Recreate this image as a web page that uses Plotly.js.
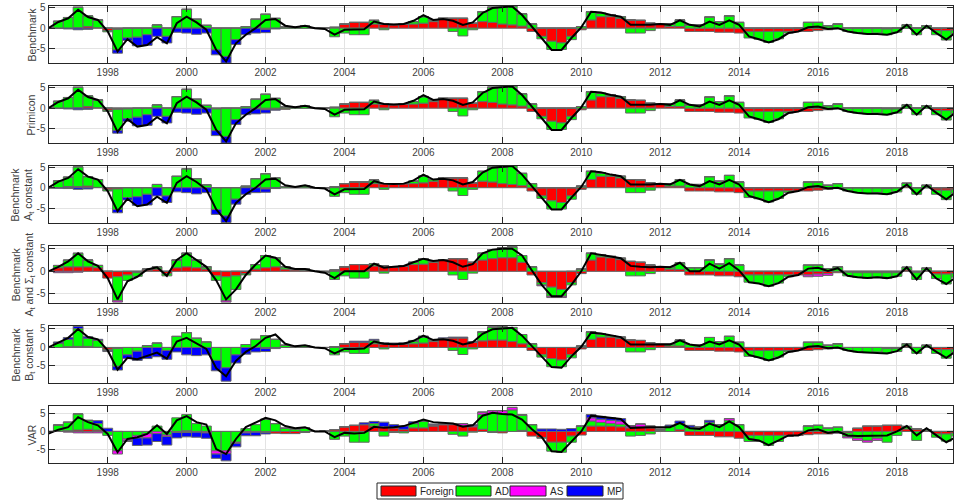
<!DOCTYPE html>
<html>
<head>
<meta charset="utf-8">
<script src="https://cdn.plot.ly/plotly-3.0.1.min.js"></script>
<style>html,body{margin:0;padding:0;background:#fff}#chart{width:954px;height:501px}</style>
</head>
<body>
<div id="chart"></div>
<script>
// Quarterly dates 1996Q3 .. 2019Q3
const quarters = Array.from({length: 93}, (_, i) => 1996.5 + 0.25 * i);
const yearTicks = [1998, 2000, 2002, 2004, 2006, 2008, 2010, 2012, 2014, 2016, 2018];
const seriesNames = ['Foreign', 'AD', 'AS', 'MP'];
const panelLabels = ['Benchmark', 'Primicon', 'Benchmark<br>A<sub>t</sub> constant',
  'Benchmark<br>A<sub>t</sub> and Σ<sub>t</sub> constant', 'Benchmark<br>B<sub>t</sub> constant', 'VAR'];

// ---------- Panel 1: Benchmark ----------
const p1Foreign = [0,0,0,0.1,0.4,0.1,-0.6,-0.3,0,0, 0,0,0,0,0,0,0,0,0,0, 0,0,-0.3,0,0,0,0,0,0,0.2,
  1.0,1.4,1.4,1.0,1.0,0.8,1.0,1.0,1.2,1.6, 2.4,2.4,2.4,1.2,1.6,1.4,1.0,0.8,0.5,-0.8,
  -2.0,-3.2,-3.6,-2.0,-0.4,2.0,2.8,2.8,2.4,2.0, 1.9,1.2,1.0,0.4,0.4,-0.8,-0.8,-0.8,-1.0,-1.0,
  -1.2,-0.8,-0.8,-0.8,-0.8,-0.8,-0.8,-0.8,-0.6,-0.4, -0.2,0,0,0,0,-0.2,0,0,0,0, -0.6,-0.6,-0.5];
const p1AD = [0,1.7,2.6,5.0,2.6,1.9,-0.3,-5.0,-2.4,-2.2, -1.6,0.8,-2.0,2.8,4.6,2.2,0.7,-5.3,-6.9,-2.8,
  0.4,2.2,3.4,2.4,0.3,0.2,0.5,0,0,-2.1, -1.2,-1.6,-1.6,0.9,-0.4,0.1,0,0.6,1.6,0.4,
  0,-0.8,-1.9,-0.4,2.4,3.7,4.1,4.6,3.0,1.0, -0.6,-2.0,-1.6,-0.8,0.4,2.0,0.8,0.4,0.4,-1.2,
  -1.2,-0.6,0,0.6,1.6,0.8,0.8,2.7,1.6,3.0, 1.4,-1.6,-1.9,-2.7,-1.8,-0.4,0,1.4,1.4,0.6,
  1.0,-0.8,-1.2,-1.4,-1.2,-1.4,-1.0,0.8,-1.6,0.6, -1.0,-2.3,-0.8];
const p1AS = new Array(93).fill(0);
const p1MP = [0,-0.1,-0.2,-0.4,-0.3,0,0,-0.8,-0.6,-2.1, -2.6,-2.0,-1.6,-1.0,-1.2,-1.5,-1.2,-1.2,-1.6,-1.2,
  -1.6,-1.2,-0.8,-0.2,0,0,0,0,0,0].concat(new Array(63).fill(0));
const p1Total = [0,1.5,2.4,4.5,2.7,2.0,-0.8,-5.7,-2.7,-4.5, -4.1,-2.2,-3.7,1.2,2.8,1.4,-0.4,-5.3,-8.1,-3.7,
  -1.6,0,2.0,2.2,0.6,0.2,0.6,0,-0.2,-1.6, -0.4,-0.4,-0.3,1.6,1.0,0.9,1.0,1.8,3.2,2.0,
  2.2,1.8,0.8,1.4,3.7,4.9,5.1,5.3,3.2,0.4, -2.4,-5.3,-5.3,-2.4,0.2,4.0,3.8,3.2,2.8,0.8,
  0.8,0.8,1.0,0.8,1.9,0.8,0.4,1.6,0.8,1.9, 0.8,-2.0,-2.7,-3.5,-2.7,-1.2,-0.8,0.2,0.4,-0.2,
  0,-0.8,-1.2,-1.4,-1.4,-1.6,-1.0,0.8,-1.6,0.6, -1.2,-2.8,-1.0];

// ---------- Panel 2: Primicon ----------
const p2Foreign = [0,0,0,0.1,0.4,0.1,-0.5,-0.3,-0.2,0, 0,0,0,0,0,0,0,-0.2,0,0, 0,-0.2,-0.4,-0.3,-0.3,0,0,0,0,0.2,
  1.0,1.4,1.4,1.0,1.0,0.8,1.0,1.0,1.2,1.6, 2.4,2.4,2.4,1.2,1.6,1.4,1.0,0.8,0.5,-0.8,
  -2.0,-3.2,-3.6,-2.0,-0.4,2.0,2.8,2.8,2.4,2.0, 1.9,1.2,1.0,0.4,0.4,-0.8,-0.8,-0.8,-1.0,-1.0,
  -1.2,-0.8,-0.8,-0.8,-0.8,-0.8,-0.8,-0.8,-0.6,-0.4, -0.2,0,0,0,0,-0.2,-0.2,0,0,0, -0.6,-0.6,-0.5];
const p2AD = [0,1.7,2.6,5.0,2.6,1.9,-0.3,-5.2,-2.4,-2.2, -1.6,0.8,-2.0,2.8,4.6,2.2,0.7,-5.3,-6.9,-2.8,
  0.4,2.2,3.4,2.4,0.3,0.2,0.5,0,0,-2.1, -1.2,-1.6,-1.6,0.9,-0.4,0.1,0,0.6,1.6,0.4,
  0,-0.8,-1.9,-0.4,2.4,3.7,4.1,4.6,3.0,1.0, -0.6,-2.0,-1.6,-0.8,0.4,2.0,0.8,0.4,0.4,-1.2,
  -1.2,-0.6,0,0.6,1.6,0.8,0.8,2.7,1.6,3.0, 1.4,-1.6,-1.9,-2.7,-1.8,-0.4,0,1.4,1.4,0.6,
  1.0,-0.8,-1.2,-1.4,-1.2,-1.4,-1.0,0.8,-1.6,0.6, -1.0,-2.3,-0.8];
const p2AS = new Array(93).fill(0);
const p2MP = [0,-0.1,-0.2,-0.4,-0.3,0,0,-0.6,-0.6,-2.1, -2.6,-2.0,-1.6,-1.0,-1.2,-1.5,-1.2,-1.2,-1.6,-1.2,
  -1.6,-1.2,-0.8,-0.2,0,0,0,0,0,0].concat(new Array(63).fill(0));
const p2Total = [0,1.5,2.4,4.5,2.7,2.0,-0.8,-5.8,-2.7,-4.5, -4.1,-2.2,-3.7,1.2,2.8,1.4,-0.4,-5.3,-8.1,-3.7,
  -1.6,0,2.0,2.2,0.6,0.2,0.6,0,-0.2,-1.6, -0.4,-0.4,-0.3,1.6,1.0,0.9,1.0,1.8,3.2,2.0,
  2.2,1.8,0.8,1.4,3.7,4.9,5.1,5.3,3.2,0.4, -2.4,-5.3,-5.3,-2.4,0.2,4.0,3.8,3.2,2.8,0.8,
  0.8,0.8,1.0,0.8,1.9,0.8,0.4,1.6,0.8,1.9, 0.8,-2.0,-2.7,-3.5,-2.7,-1.2,-0.8,0.2,0.4,-0.2,
  0,-0.8,-1.2,-1.4,-1.4,-1.6,-1.0,0.8,-1.6,0.6, -1.2,-2.8,-1.0];

// ---------- Panel 3: Benchmark, A_t constant ----------
const p3Foreign = [0,0,0.3,0.3,0.4,0.1,-0.5,-0.3,0,0, 0,0,0,0,0,0,0,0,0,0, 0,0,-0.3,0,0,0,0,0,0,0.2,
  1.0,1.4,1.4,1.0,1.0,0.8,1.0,1.0,1.2,1.6, 2.4,2.4,2.4,1.2,1.6,1.4,1.0,0.8,0.5,-0.8,
  -2.0,-3.2,-3.6,-2.0,-0.4,2.0,2.8,2.8,2.4,2.0, 1.9,1.2,1.0,0.4,0.4,-0.8,-0.8,-0.8,-1.0,-1.0,
  -1.2,-0.8,-0.8,-0.8,-0.8,-0.8,-0.8,-0.8,-0.6,-0.4, -0.2,0,0,0,0,-0.2,0,0.3,0,0, -0.6,-0.6,-0.5];
const p3AD = [0,1.7,2.3,4.8,2.3,1.9,-0.3,-5.0,-2.4,-2.2, -1.6,0.8,-2.0,2.8,4.6,2.2,0.7,-5.3,-6.9,-2.8,
  0.4,2.2,3.4,2.4,0.3,0.2,0.5,0,0,-2.1, -1.2,-1.6,-1.6,0.9,-0.4,0.1,0,0.6,1.6,0.4,
  0,-0.8,-1.9,-0.4,2.4,3.7,4.1,4.6,3.0,1.0, -0.6,-2.0,-1.6,-0.8,0.4,2.0,0.8,0.4,0.4,-1.2,
  -1.2,-0.6,0,0.6,1.6,0.8,0.8,2.7,1.6,3.0, 1.4,-1.6,-1.9,-2.7,-1.8,-0.4,0,1.4,1.4,0.6,
  1.0,-0.8,-1.2,-1.4,-1.2,-1.4,-1.0,0.8,-1.6,0.6, -1.0,-2.3,-0.8];
const p3AS = new Array(93).fill(0);
const p3MP = [0,-0.1,-0.2,-0.4,-0.3,0,0,-0.8,-0.6,-2.1, -2.6,-2.0,-1.6,-1.0,-1.2,-1.5,-1.2,-1.2,-1.6,-1.2,
  -1.6,-1.2,-0.8,-0.2,0,0,0,0,0,0].concat(new Array(63).fill(0));
const p3Total = [0,1.5,2.4,4.5,2.7,2.0,-0.8,-5.7,-2.7,-4.5, -4.1,-2.2,-3.7,1.2,2.8,1.4,-0.4,-5.3,-8.1,-3.7,
  -1.6,0,2.0,2.2,0.6,0.2,0.6,0,-0.2,-1.6, -0.4,-0.4,-0.3,1.6,1.0,0.9,1.0,1.8,3.2,2.0,
  2.2,1.8,0.8,1.4,3.7,4.9,5.1,5.3,3.2,0.4, -2.4,-5.3,-5.3,-2.4,0.2,4.0,3.8,3.2,2.8,0.8,
  0.8,0.8,1.0,0.8,1.9,0.8,0.4,1.6,0.8,1.9, 0.8,-2.0,-2.7,-3.5,-2.7,-1.2,-0.8,0.2,0.4,-0.2,
  0,-0.8,-1.2,-1.4,-1.4,-1.6,-1.0,0.8,-1.6,0.6, -1.2,-2.8,-1.0];

// ---------- Panel 4: Benchmark, A_t and Sigma_t constant ----------
const p4Foreign = [0,0.8,1.0,1.0,1.0,0.8,-1.5,-1.2,-0.8,-0.3, 0.3,0.5,-0.5,0.8,1.0,0.8,0.5,-1.0,-1.2,-1.0,
  -0.5,0.5,0.8,1.0,0.5,0.3,0.2,0,-0.2,0.3, 1.0,1.5,1.5,1.2,1.2,1.0,1.2,1.5,1.6,2.0,
  2.5,2.8,2.8,2.0,2.5,2.8,3.0,3.0,2.0,-0.8, -2.5,-3.5,-4.0,-2.5,-0.5,2.5,3.2,3.0,2.6,2.2,
  2.0,1.4,1.0,0.5,0.4,-0.8,-0.8,-0.8,-1.0,-1.0, -1.2,-0.8,-0.8,-0.8,-0.8,-0.8,-0.8,-0.8,-0.6,-0.5,
  -0.3,-0.2,-0.3,-0.3,-0.3,-0.3,-0.3,0.3,-0.3,0.2, -0.6,-0.6,-0.5];
const p4AD = [0,0.5,1.5,3.0,1.5,0.5,0,-5.3,-1.2,-0.8, 0.2,0.5,-0.5,1.7,3.0,1.7,0.5,-1.0,-5.3,-3.0,
  -0.3,1.0,2.7,2.0,0.5,0.2,0.3,0,-0.1,-1.8, -1.0,-1.5,-1.5,0.5,-0.4,0,0,0.5,1.2,0.3,
  0,-0.8,-1.8,-0.4,1.5,2.0,2.2,2.4,1.5,1.0, -0.5,-2.0,-1.5,-0.5,0.5,1.5,0.5,0.3,0.3,-1.0,
  -1.0,-0.5,0,0.5,1.5,0.8,0.8,2.5,1.6,2.8, 1.4,-1.6,-1.9,-2.5,-1.8,-0.4,0,1.4,1.4,0.6,
  1.0,-0.8,-1.0,-1.2,-1.0,-1.2,-0.8,0.6,-1.5,0.5, -1.0,-2.2,-0.8];
const p4AS = [0,-0.3,-0.3,-0.2,0,0,0,-0.3,0,0, 0,0,0,0,0,0,0,0,-0.3,0,
  0,0,0,0,0,0,0,0,0,0, 0,0,0,0,0,0,0,0,0,0, 0,0,0,0,0,0,0,0,0,0,
  -0.2,-0.3,-0.3,0,0,0,0,0,0,0, 0,0,0,0,0,0,0,0,0,0, 0,0,0,0,0,0,0,-0.4,-0.5,-0.4,
  0,0,0,0,0,0,0,0,0,0, 0,0,0];
const p4MP = new Array(93).fill(0);
const p4Total = [0,1.0,2.2,4.0,2.2,1.2,-1.5,-6.2,-2.2,-1.2, 0.4,0.9,-1.0,2.5,4.0,2.5,1.0,-2.0,-6.2,-4.0,
  -0.8,1.5,3.5,3.0,1.0,0.5,0.5,0,-0.3,-1.5, 0,0,0,1.7,0.8,1.0,1.2,2.0,2.8,2.3,
  2.5,2.0,1.0,1.6,4.0,4.8,5.0,5.0,3.5,0.2, -3.0,-5.5,-5.5,-3.0,0,4.0,3.7,3.3,2.9,1.2,
  1.0,0.9,1.0,0.9,1.9,0,0,1.7,0.6,1.8, 0.2,-2.4,-2.7,-3.3,-2.6,-1.2,-0.8,0.6,0.8,0.1,
  0.7,-1.0,-1.3,-1.5,-1.3,-1.5,-1.1,0.9,-1.8,0.7, -1.6,-2.8,-1.3];

// ---------- Panel 5: Benchmark, B_t constant ----------
const p5Foreign = [0,0,0.2,0.3,0.3,0.1,-0.5,-0.3,0,0, 0,0,0,0,0,0,0,0,0,0, 0,0,-0.3,0,0,0,0,0,0,0.2,
  1.0,1.4,1.4,1.0,1.0,0.8,1.0,1.0,1.2,1.6, 2.4,2.6,2.6,1.4,1.8,2.0,2.0,1.6,1.0,-0.8,
  -2.0,-3.0,-3.4,-2.0,-0.4,2.2,2.8,2.8,2.4,2.0, 1.9,1.2,1.0,0.4,0.4,-0.8,-0.8,-0.8,-1.0,-1.0,
  -1.2,-0.8,-0.8,-0.8,-0.8,-0.8,-0.8,-0.8,-0.6,-0.4, -0.2,0,0,0,0,-0.3,-0.3,0.4,0,0, -0.6,-0.6,-0.5];
const p5AD = [0,1.2,2.0,4.8,2.2,1.8,-0.3,-4.8,-2.0,-1.0, 0.5,1.2,-0.8,3.0,4.0,2.5,1.5,-3.5,-5.5,-2.0,
  0.8,2.2,3.2,2.2,0.6,0.3,0.5,0,0,-2.0, -1.2,-1.6,-1.6,0.9,-0.4,0.1,0,0.6,1.6,0.4,
  0,-0.8,-1.9,-0.4,2.4,3.5,3.6,3.8,2.5,1.0, -0.6,-2.2,-1.8,-0.8,0.4,2.0,0.8,0.4,0.4,-1.2,
  -1.2,-0.6,0,0.6,1.6,0.8,0.8,2.7,1.6,3.0, 1.4,-1.6,-1.9,-2.7,-1.8,-0.4,0,1.4,1.4,0.6,
  1.0,-0.8,-1.2,-1.4,-1.2,-1.2,-0.8,0.6,-1.6,0.6, -1.0,-2.3,-0.8];
const p5AS = new Array(93).fill(0);
const p5MP = [0,0.3,0.5,0.6,0.4,0.3,-0.3,-1.0,-1.0,-2.5, -3.0,-2.5,-2.4,-1.2,-2.0,-2.2,-2.0,-2.8,-3.6,-2.2,
  -1.8,-1.2,-0.8,-0.3,0,0,0,0,0,0, 0,0.3,0.3,0.3,0.3,0.3,0.3,0.3,0.3,0.2,
  0.2,0.2,0.2,0.2,0,0,0,0,0,0, 0,0,0,0,0,0,0,0,0,0].concat(new Array(33).fill(0));
const p5Total = [0,1.4,2.6,5.0,2.8,2.2,-0.8,-6.0,-2.8,-3.2, -2.4,-1.4,-3.0,1.6,2.6,1.2,-0.4,-5.6,-7.8,-3.6,
  -1.2,0.4,2.6,3.5,1.0,0.3,0.6,0,-0.2,-1.6, -0.4,-0.4,-0.3,1.6,1.0,0.9,1.0,1.8,3.2,2.0,
  2.2,1.8,0.8,1.4,3.7,4.9,5.1,5.3,3.2,0.4, -2.4,-5.3,-5.5,-2.4,0.2,4.0,3.8,3.2,2.8,0.8,
  0.8,0.8,1.0,0.8,1.9,0.8,0.4,1.6,0.8,1.9, 0.8,-2.0,-2.7,-3.5,-2.7,-1.2,-0.8,0.2,0.4,-0.2,
  0,-0.8,-1.2,-1.4,-1.4,-1.6,-1.0,0.8,-1.6,0.6, -1.2,-2.8,-1.0];

// ---------- Panel 6: VAR ----------
const p6Foreign = [0,0.1,0.2,0.4,0.6,0.4,0,0,0,0, 0,0,0,0,0.2,0,0,0,0,0,
  0,0,-0.3,-0.5,-0.6,-0.6,-0.3,0,0.2,0.5, 1.3,1.7,1.9,1.5,1.3,1.0,0.6,1.0,1.0,1.5,
  1.9,1.9,1.7,1.3,0.6,-0.3,-0.4,0,0.3,-1.3, -1.7,-3.0,-3.0,-1.3,-1.0,1.5,1.5,1.5,1.3,1.0,
  1.2,1.0,0.3,0,0.5,-1.1,-1.1,-1.1,-1.5,-1.5, -1.9,-1.1,-1.1,-1.1,-1.1,-1.1,-1.1,-0.9,-0.7,-0.7,
  -0.3,-0.4,0.9,1.5,1.5,1.7,1.7,0.7,0.7,0.2, -0.7,-0.7,-0.5];
const p6AD = [0,1.7,2.4,4.5,2.5,1.8,-1.1,-5.4,-2.1,-1.1, -0.6,1.5,-1.0,3.8,4.5,2.2,1.5,-5.4,-5.4,-3.0,
  0.8,1.9,3.4,2.2,0.9,0.7,1.0,0,0,-2.2, -1.3,-3.0,-3.0,0.7,-1.3,-0.3,-0.4,1.2,1.9,0.2,
  0,-0.8,-1.3,-0.2,4.2,5.0,5.0,6.0,4.2,1.9, -0.2,-2.5,-2.8,-1.7,1.5,1.4,1.0,0.7,0.7,-1.3,
  -1.1,-0.7,0.3,1.5,1.7,1.2,1.2,2.6,1.9,3.1, 1.9,-1.7,-1.7,-2.8,-1.7,-0.3,0,1.5,1.7,0.9,
  1.2,-1.0,-1.9,-2.5,-1.9,-3.0,-1.1,0.7,-2.5,0.3, -0.9,-2.0,-0.8];
const p6AS = [0,0,-0.2,-0.4,-0.4,-0.4,0,-0.9,-0.5,-0.7, -1.2,-0.6,-0.4,-0.3,-0.3,-0.2,-0.4,-0.9,-0.8,-0.3,
  -0.4,-0.2,0,0,0,0,0,0,0,0, 0,0,0,0,0,0,0,0,0,0.2,
  0.2,0.3,0.5,0.3,0.6,0.8,0.8,0.7,0.2,0, 0,0,0,0,0,0.9,0.9,0.9,0.9,0.6,
  0.9,0.5,0,0,0,0,0,0,0,0.5, 0,0,0,0,0,0,0,0,0,0,
  -0.2,-0.4,-0.6,-0.5,-0.6,0,0,0,0,0, 0,0,0];
const p6MP = [0,0,0,0,0,0.8,0.9,0,-0.2,-2.1, -2.0,-2.2,-2.4,-1.5,-1.2,-1.4,-1.5,-1.2,-2.0,-1.0,
  -0.8,-1.0,-0.4,0,0,0,0,0,0,0, 0,0,0.5,0.6,1.3,0.9,0.9,0.5,0,0.2,
  0,0,0,0.3,0,0,0,0,0,0, 0.7,0.7,0.6,0.8,0,0.9,0.8,0.7,0.7,0,
  0,0,0,0.3,0.7,0.5,0,0.5,0,0].concat(new Array(23).fill(0));
const p6Total = [-0.6,0.5,1.2,4.0,2.6,1.7,-0.7,-5.8,-2.1,-1.6, -0.7,1.7,-0.7,3.1,4.3,2.6,1.9,-4.9,-6.3,-2.1,
  1.2,2.6,3.8,3.1,1.5,0.9,1.2,0,0,-1.6, -0.4,-0.6,-0.4,1.3,1.0,1.2,1.5,2.4,3.3,2.6,
  2.5,2.2,1.3,1.7,4.4,5.2,4.9,4.7,3.3,0.6, -1.6,-5.5,-5.7,-2.7,0,4.4,4.1,3.8,3.5,1.0,
  1.2,1.2,1.2,1.2,2.4,0.9,0.7,2.2,1.2,2.8, 1.2,-2.1,-2.5,-3.8,-2.5,-1.1,-1.1,0.3,0.6,-0.4,
  0,-1.1,-1.3,-1.3,-1.1,-1.1,0,1.5,-1.1,0.9, -1.1,-3.0,-1.5];

const panels = [
  [p1Foreign, p1AD, p1AS, p1MP, p1Total],
  [p2Foreign, p2AD, p2AS, p2MP, p2Total],
  [p3Foreign, p3AD, p3AS, p3MP, p3Total],
  [p4Foreign, p4AD, p4AS, p4MP, p4Total],
  [p5Foreign, p5AD, p5AS, p5MP, p5Total],
  [p6Foreign, p6AD, p6AS, p6MP, p6Total]
];
const yRanges = [[-8.5, 5.4], [-8.5, 5.4], [-8.6, 5.3], [-7.0, 5.6], [-9.6, 5.8], [-8.8, 7.1]];

// ---------- styling ----------
const W = 954, H = 501;
const colors = ['#ff0000', '#00ff00', '#ff00ff', '#0000ff'];
const axisColor = '#262626';
const font = {family: 'Liberation Sans, Arial, sans-serif', size: 10, color: '#404040'};
const plotLeft = 48.5, plotRight = 953;

const traces = [];
const layout = {
  width: W, height: H,
  margin: {l: 0, r: 0, t: 0, b: 0},
  paper_bgcolor: '#fff', plot_bgcolor: '#fff',
  barmode: 'relative', bargap: 0,
  showlegend: false,
  font: font,
  shapes: [], annotations: []
};

panels.forEach((p, k) => {
  const xa = k === 0 ? 'x' : 'x' + (k + 1);
  const ya = k === 0 ? 'y' : 'y' + (k + 1);
  for (let s = 0; s < 4; s++) {
    traces.push({
      type: 'bar', x: quarters, y: p[s], xaxis: xa, yaxis: ya, name: seriesNames[s],
      width: 0.25,
      marker: {color: colors[s], line: {color: '#666666', width: 1}},
      hoverinfo: 'skip'
    });
  }
  traces.push({
    type: 'scatter', mode: 'lines', x: quarters, y: p[4], xaxis: xa, yaxis: ya,
    line: {color: '#000000', width: 2}, hoverinfo: 'skip', name: 'Total'
  });
  const top = 6 + 80 * k, bottom = 63 + 80 * k;
  const xKey = k === 0 ? 'xaxis' : 'xaxis' + (k + 1);
  const yKey = k === 0 ? 'yaxis' : 'yaxis' + (k + 1);
  layout[xKey] = {
    domain: [plotLeft / W, plotRight / W], anchor: ya,
    range: [1996.5, 2019.42], tickvals: yearTicks, ticktext: yearTicks.map(String),
    ticks: 'inside', ticklen: 6, tickcolor: axisColor, tickwidth: 1,
    showline: true, linecolor: axisColor, linewidth: 1, mirror: 'ticks',
    showgrid: true, gridcolor: '#e3e3e3', gridwidth: 1, zeroline: false,
    tickfont: font, fixedrange: true
  };
  layout[yKey] = {
    domain: [1 - bottom / H, 1 - top / H], anchor: xa,
    range: yRanges[k], tickvals: [-5, 0, 5], ticktext: ['-5', '0', '5'],
    ticks: 'inside', ticklen: 6, tickcolor: axisColor, tickwidth: 1,
    showline: true, linecolor: axisColor, linewidth: 1, mirror: 'ticks',
    showgrid: true, gridcolor: '#e3e3e3', gridwidth: 1, zeroline: false,
    tickfont: font, fixedrange: true
  };
  const twoLine = panelLabels[k].indexOf('<br>') >= 0;
  layout.annotations.push({
    xref: 'paper', yref: 'paper', x: (twoLine ? 23 : 31) / W, y: 1 - (top + bottom) / 2 / H,
    text: panelLabels[k], textangle: -90, showarrow: false,
    xanchor: 'center', yanchor: 'middle',
    font: {family: font.family, size: 10.5, color: '#404040'}
  });
});

// Legend (drawn manually to get wide MATLAB-style swatches)
const px = v => v / W, py = v => 1 - v / H;
layout.shapes.push({type: 'rect', xref: 'paper', yref: 'paper', x0: px(377), x1: px(623), y0: py(483), y1: py(499),
  line: {color: '#262626', width: 1}, fillcolor: '#ffffff', layer: 'above'});
const legItems = [[381, 416, 418, 'Foreign'], [456, 491, 493, 'AD'], [510, 546, 548, 'AS'], [567, 603, 605, 'MP']];
legItems.forEach((it, s) => {
  layout.shapes.push({type: 'rect', xref: 'paper', yref: 'paper', x0: px(it[0]), x1: px(it[1]), y0: py(486), y1: py(496),
    line: {color: '#262626', width: 1}, fillcolor: colors[s], layer: 'above'});
  layout.annotations.push({xref: 'paper', yref: 'paper', x: px(it[2]), y: py(491), text: it[3], showarrow: false,
    xanchor: 'left', yanchor: 'middle', font: {family: font.family, size: 10, color: '#262626'}});
});

Plotly.newPlot('chart', traces, layout, {staticPlot: true, displayModeBar: false});
</script>
</body>
</html>
